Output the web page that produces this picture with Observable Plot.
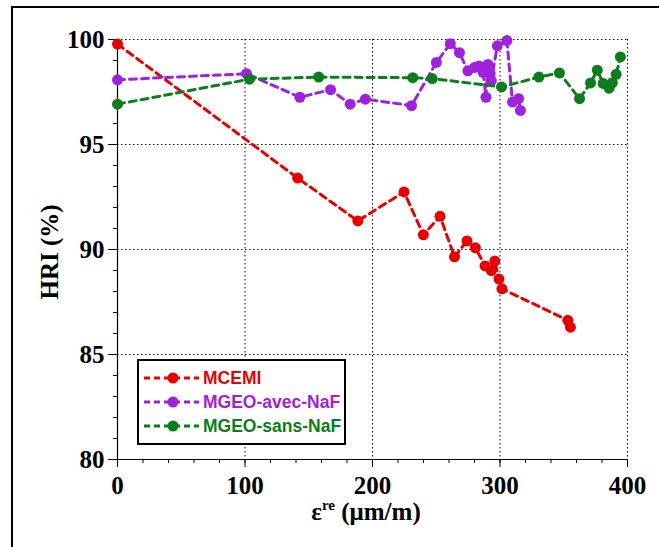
<!DOCTYPE html>
<html>
<head>
<meta charset="utf-8">
<script src="https://cdn.jsdelivr.net/npm/d3@7"></script>
<script src="https://cdn.jsdelivr.net/npm/@observablehq/plot@0.6"></script>
<style>
  html, body { margin: 0; padding: 0; background: #fff; }
  #wrap { position: relative; width: 659px; height: 547px; overflow: hidden; }
  #frame { position: absolute; left: 11px; top: 6px; width: 700px; height: 600px;
           border-left: 2px solid #000; border-top: 2px solid #000; pointer-events: none; }
  #legend { position: absolute; left: 137px; top: 359px; }
  .serif { font-family: "Liberation Serif", "Times New Roman", Times, "DejaVu Serif", serif; }
</style>
</head>
<body>
<div id="wrap"><div id="frame"></div></div>
<script>
// ---- data ----
const seriesNames = ["MCEMI", "MGEO-avec-NaF", "MGEO-sans-NaF"];
const seriesColors = ["#e60000", "#9e22dc", "#0b7d1c"];

const xMCEMI = [0, 141.3, 188.5, 224.7, 239.9, 253.0, 264.3, 274.1, 280.7, 288.3, 293.2, 295.9, 299.2, 301.5, 353.2, 355.2];
const yMCEMI = [99.78, 93.40, 91.36, 92.74, 90.70, 91.58, 89.65, 90.41, 90.08, 89.22, 89.00, 89.45, 88.59, 88.13, 86.63, 86.30];

const xAvec = [0, 101.2, 143.0, 167.1, 182.5, 194.4, 230.6, 250.1, 261.0, 268.2, 274.8, 280.1, 283.4, 286.7, 289.0, 290.6, 292.3, 293.2, 297.9, 305.4, 309.8, 314.6, 316.0];
const yAvec = [98.08, 98.37, 97.25, 97.61, 96.92, 97.16, 96.85, 98.91, 99.80, 99.37, 98.51, 98.67, 98.74, 98.44, 97.25, 98.81, 98.38, 98.04, 99.70, 99.95, 97.02, 97.18, 96.62];

const xSans = [0, 103.5, 157.8, 231.6, 246.8, 301.2, 330.5, 346.6, 362.4, 371.0, 376.3, 380.9, 385.5, 388.1, 391.1, 394.4];
const ySans = [96.92, 98.11, 98.21, 98.18, 98.14, 97.74, 98.21, 98.41, 97.18, 97.93, 98.54, 97.91, 97.68, 97.94, 98.34, 99.17];

const xMajor = [0, 100, 200, 300, 400];
const yMajor = [80, 85, 90, 95, 100];
const xLabel = "ε";
const xLabelSup = "re";
const xLabelRest = " (μm/m)";
const yLabel = "HRI (%)";

// ---- build table ----
const rows = (xs, ys, s) => xs.map((x, i) => ({x, y: ys[i], s}));
const series = [
  rows(xMCEMI, yMCEMI, seriesNames[0]),
  rows(xAvec, yAvec, seriesNames[1]),
  rows(xSans, ySans, seriesNames[2])
];

const serif = "Liberation Serif, Times New Roman, Times, DejaVu Serif, serif";
const dotted = {stroke: "#000", strokeOpacity: 1, strokeWidth: 1, strokeDasharray: "1.5,2.5"};

const marks = [
  Plot.gridX([100, 200, 300, 400], dotted),
  Plot.gridY([85, 90, 95, 100], dotted),
  Plot.axisX(d3.range(0, 401, 20), {tickSize: 4, tickFormat: () => "", label: null}),
  Plot.axisY(d3.range(80, 101, 1), {tickSize: 4, tickFormat: () => "", label: null}),
  Plot.axisX(xMajor, {tickSize: 8, tickPadding: 9, label: null, fontSize: 25, fontWeight: "bold", className: "xmaj"}),
  Plot.axisY(yMajor, {tickSize: 9, tickPadding: 4, label: null, fontSize: 25, fontWeight: "bold", className: "ymaj"}),
  Plot.ruleX([0], {stroke: "#000", strokeWidth: 1.2}),
  Plot.ruleY([80], {stroke: "#000", strokeWidth: 1.2})
];
series.forEach((d, i) => {
  marks.push(Plot.line(d, {x: "x", y: "y", stroke: seriesColors[i], strokeWidth: 3, strokeDasharray: "7,5"}));
  marks.push(Plot.dot(d, {x: "x", y: "y", r: 5.5, fill: seriesColors[i], stroke: "none"}));
});

const chart = Plot.plot({
  width: 659,
  height: 547,
  marginLeft: 117,
  marginRight: 32,
  marginTop: 39,
  marginBottom: 88,
  x: {domain: [0, 400]},
  y: {domain: [80, 100]},
  style: {background: "transparent", color: "#000"},
  marks
});
document.getElementById("wrap").insertBefore(chart, document.getElementById("frame"));

const svg = d3.select(chart);
// force serif on all tick labels
svg.selectAll("text").classed("serif", true).style("font-family", null);
svg.selectAll("g[aria-label='x-axis tick label'], g[aria-label='y-axis tick label']").classed("serif", true);

// axis titles
svg.append("text")
  .attr("class", "serif")
  .attr("transform", "translate(49,252) rotate(-90)")
  .attr("text-anchor", "middle")
  .attr("dominant-baseline", "central")
  .attr("font-weight", "bold").attr("font-size", 25)
  .attr("fill", "#000")
  .text(yLabel);
const xl = svg.append("text")
  .attr("class", "serif")
  .attr("x", 366).attr("y", 520)
  .attr("text-anchor", "middle")
  .attr("font-weight", "bold").attr("font-size", 25)
  .attr("fill", "#000");
xl.append("tspan").text(xLabel);
xl.append("tspan").attr("dy", -10).attr("font-size", 15).text(xLabelSup);
xl.append("tspan").attr("dy", 10).text(xLabelRest);

// legend
const lw = 209, lh = 86;
const leg = d3.select("#wrap").append("svg")
  .attr("id", "legend").attr("width", lw).attr("height", lh);
leg.append("rect").attr("x", 1).attr("y", 1).attr("width", lw - 2).attr("height", lh - 2)
  .attr("fill", "#fff").attr("stroke", "#000").attr("stroke-width", 2);
seriesNames.forEach((name, i) => {
  const cy = 19 + i * 24;
  leg.append("line").attr("x1", 7).attr("x2", 62).attr("y1", cy).attr("y2", cy)
    .attr("stroke", seriesColors[i]).attr("stroke-width", 3).attr("stroke-dasharray", "6,4");
  leg.append("circle").attr("cx", 36).attr("cy", cy).attr("r", 5.5).attr("fill", seriesColors[i]);
  leg.append("text").attr("x", 66).attr("y", cy).attr("dominant-baseline", "central")
    .attr("font-family", "Liberation Sans, Arial, sans-serif").attr("font-weight", "bold")
    .attr("font-size", 17.5).attr("fill", seriesColors[i]).text(name);
});
</script>
</body>
</html>
